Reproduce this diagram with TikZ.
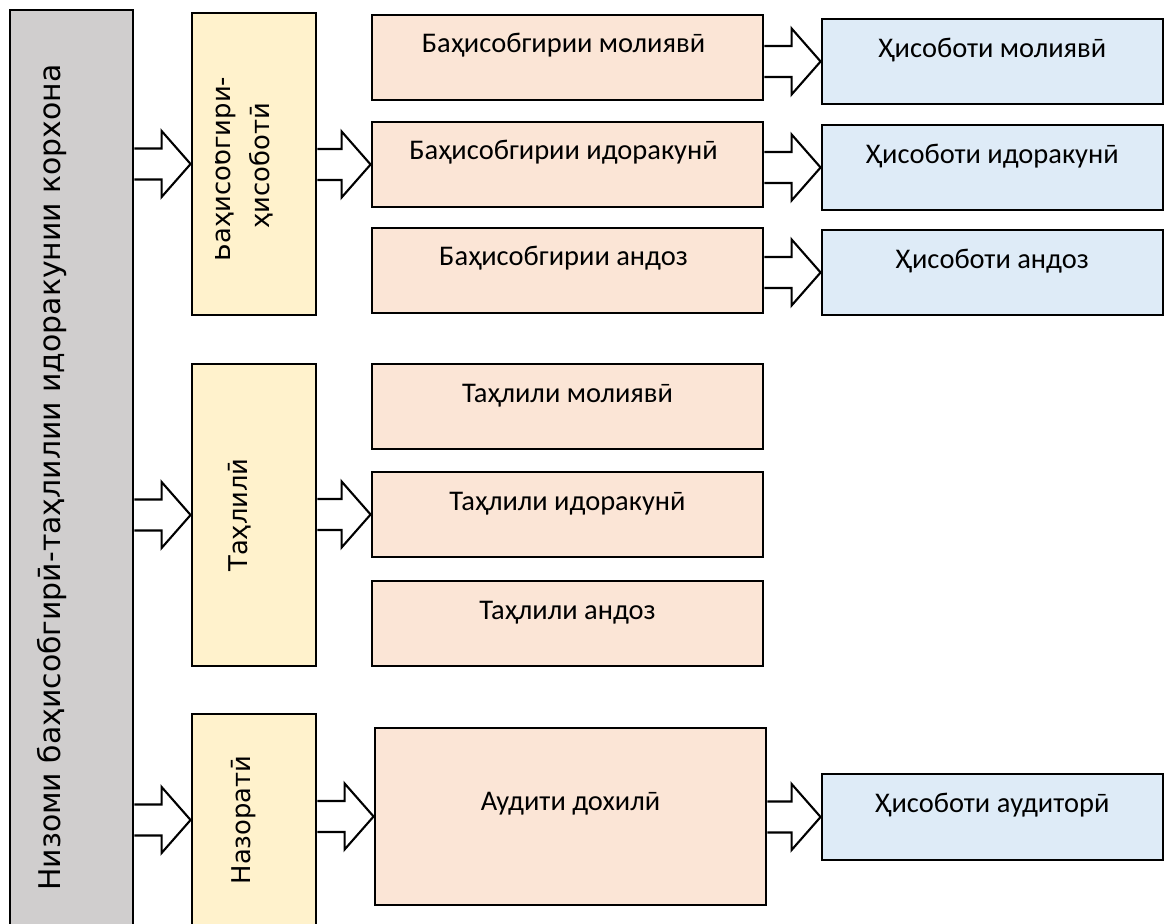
\documentclass[tikz,border=0pt]{standalone}
\usepackage{fontspec}
\setmainfont{Carlito}
\newfontfamily\grayfont{DejaVu Sans}
\usepackage{tikz}
\usetikzlibrary{calc,positioning}
\definecolor{grayfill}{HTML}{D0CECE}
\definecolor{yelfill}{HTML}{FFF2CC}
\definecolor{pinkfill}{HTML}{FBE5D6}
\definecolor{bluefill}{HTML}{DEEBF7}
\tikzset{
  box/.style={draw=black, line width=1.6pt, inner sep=0pt},
  graybox/.style={box, fill=grayfill, minimum width=2.46cm, minimum height=18.6cm},
  yelbox/.style={box, fill=yelfill, minimum width=2.48cm},
  pinkbox/.style={box, fill=pinkfill, minimum width=7.82cm, minimum height=1.7cm},
  bluebox/.style={box, fill=bluefill, minimum width=6.82cm, minimum height=1.7cm},
  arr/.style={draw=black, fill=white, line width=1.2pt, line join=miter},
  btxt/.style={font=\fontsize{16.2}{19}\selectfont, anchor=base, inner sep=0pt},
  vtxt/.style={font=\grayfont\fontsize{14.7}{17}\selectfont, rotate=90, anchor=base, inner sep=0pt},
  gtxt/.style={font=\grayfont\fontsize{17}{20}\selectfont, rotate=90, anchor=base, inner sep=0pt}
}
% block arrow from the side of #1 to the middle of #2
\newcommand{\fatarrow}[2]{%
  \draw[arr] ($(#1.east |- #2.west)+(0,0.31)$) -- ($(#2.west)+(-0.58,0.31)$)
    -- ($(#2.west)+(-0.58,0.66)$) -- (#2.west) -- ($(#2.west)+(-0.58,-0.66)$)
    -- ($(#2.west)+(-0.58,-0.31)$) -- ($(#1.east |- #2.west)+(0,-0.31)$);}

\begin{document}
\begin{tikzpicture}
  \useasboundingbox (0,0) rectangle (23.4,18.48);

  % left column
  \node[graybox] (sys) at (1.43,8.98) {};
  \node[gtxt] (tsys) at ($(sys.center)+(-0.23,-0.05)$) {Низоми баҳисобгирӣ-таҳлилии идоракунии корхона};

  % middle column
  \node[yelbox, minimum height=6.04cm] (acc) at (5.08,15.2) {};
  \node[yelbox, minimum height=6.04cm] (anl) at (5.08,8.18) {};
  \node[yelbox, minimum height=4.24cm] (ctl) at (5.08,2.08) {};
  \begin{scope}
    \clip (4.31,12) rectangle (6.3,18.4);
    \node[vtxt] (tacc) at ($(acc.center)+(-0.48,-0.1)$) {Баҳисобгирӣ-};
  \end{scope}
  \node[vtxt] (tacc2) at ($(acc.center)+(0.3,-0.04)$) {ҳисоботӣ};
  \node[vtxt] (tanl) at ($(anl.center)+(-0.14,0)$) {Таҳлилӣ};
  \node[vtxt] (tctl) at ($(ctl.center)+(-0.08,0)$) {Назоратӣ};

  % accounting kinds
  \node[pinkbox] (bm) at (11.35,17.33) {};
  \node[pinkbox] (bi) at (11.35,15.19) {};
  \node[pinkbox] (ba) at (11.35,13.07) {};
  \node[btxt] (tbm) at ($(bm.north)+(-0.08,-0.78)$) {Баҳисобгирии молиявӣ};
  \node[btxt] (tbi) at ($(bi.north)+(-0.08,-0.78)$) {Баҳисобгирии идоракунӣ};
  \node[btxt] (tba) at ($(ba.north)+(-0.08,-0.78)$) {Баҳисобгирии андоз};

  % reports
  \node[bluebox] (hm) at (19.85,17.25) {};
  \node[bluebox] (hi) at (19.85,15.13) {};
  \node[bluebox] (ha) at (19.85,13.03) {};
  \node[btxt] (thm) at ($(hm.north)+(0,-0.8)$) {Ҳисоботи молиявӣ};
  \node[btxt] (thi) at ($(hi.north)+(0,-0.8)$) {Ҳисоботи идоракунӣ};
  \node[btxt] (tha) at ($(ha.north)+(0,-0.8)$) {Ҳисоботи андоз};

  % analysis kinds
  \node[pinkbox] (tm) at (11.35,10.35) {};
  \node[pinkbox] (ti) at (11.35,8.19) {};
  \node[pinkbox] (ta) at (11.35,6.01) {};
  \node[btxt] (ttm) at ($(tm.north)+(0,-0.8)$) {Таҳлили молиявӣ};
  \node[btxt] (tti) at ($(ti.north)+(0,-0.8)$) {Таҳлили идоракунӣ};
  \node[btxt] (tta) at ($(ta.north)+(0,-0.8)$) {Таҳлили андоз};

  % control
  \node[pinkbox, minimum height=3.54cm] (aud) at (11.41,2.15) {};
  \node[btxt] (taud) at ($(aud.north)+(0,-1.68)$) {Аудити дохилӣ};
  \node[bluebox, minimum height=1.72cm] (har) at (19.85,2.14) {};
  \node[btxt] (thar) at ($(har.north)+(0,-0.8)$) {Ҳисоботи аудиторӣ};

  \fatarrow{sys}{acc}
  \fatarrow{sys}{anl}
  \fatarrow{sys}{ctl}
  \fatarrow{acc}{bi}
  \fatarrow{anl}{ti}
  \fatarrow{ctl}{aud}
  \fatarrow{bm}{hm}
  \fatarrow{bi}{hi}
  \fatarrow{ba}{ha}
  \fatarrow{aud}{har}
\end{tikzpicture}
\end{document}
